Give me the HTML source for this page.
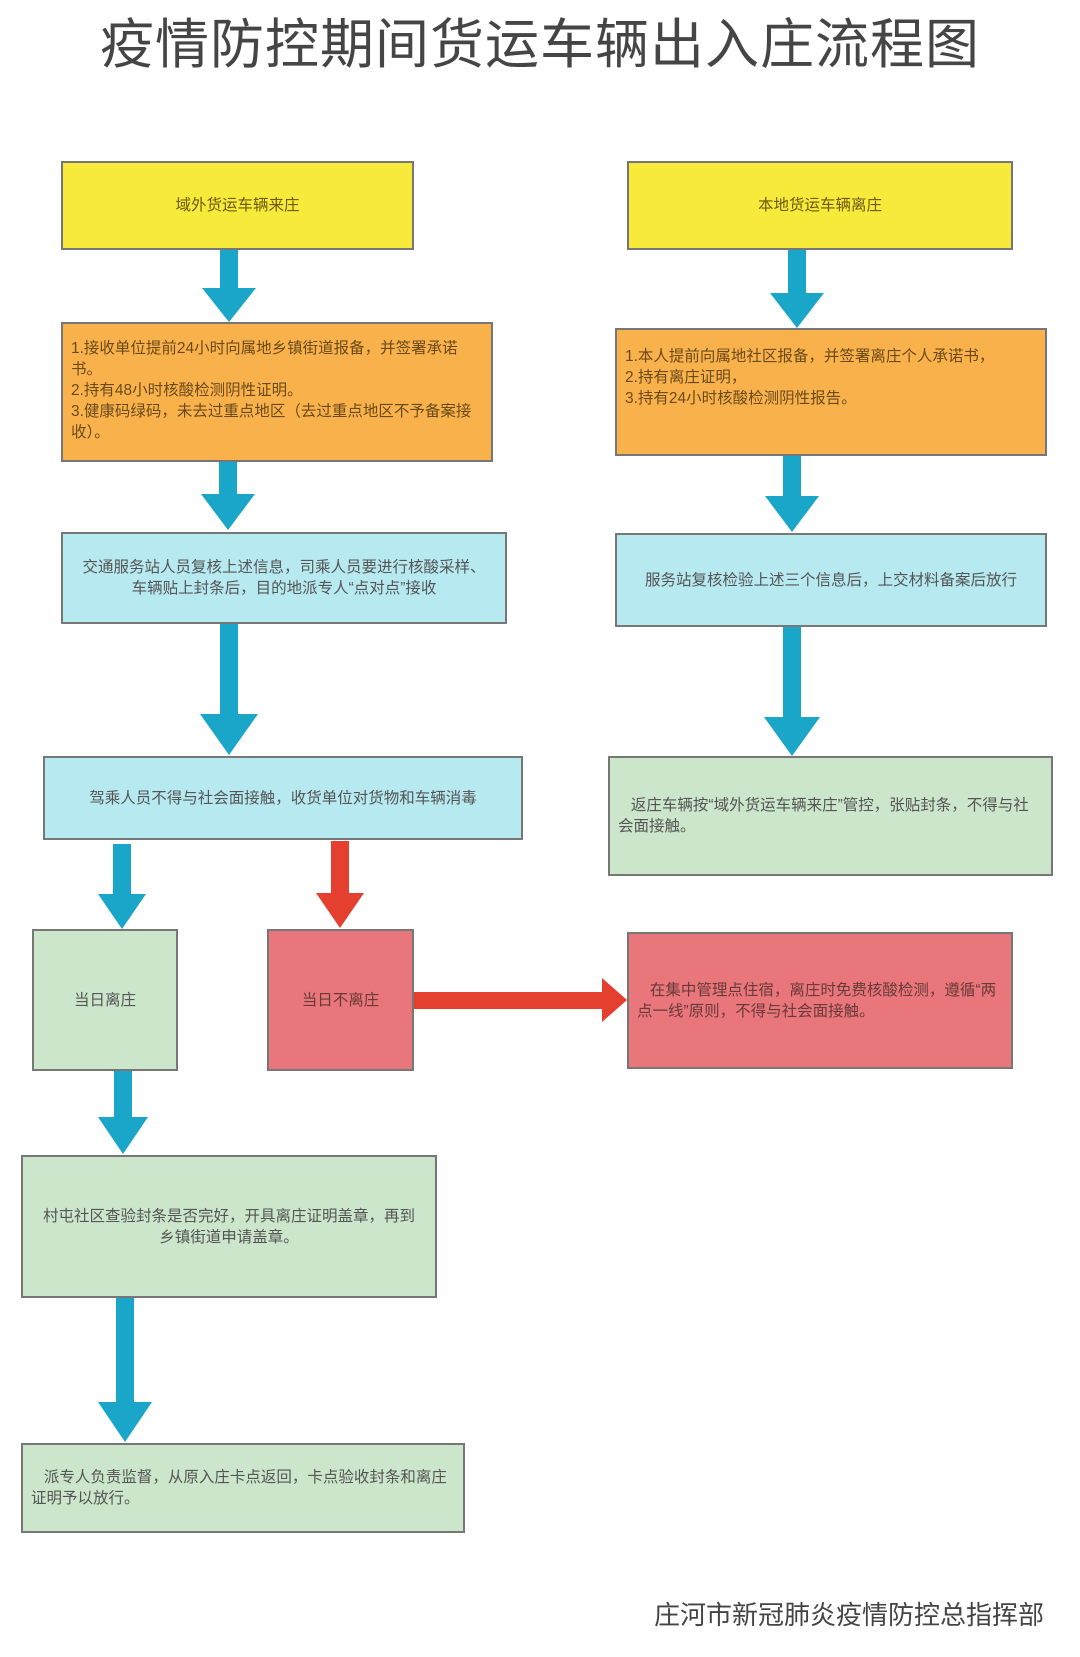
<!DOCTYPE html>
<html><head><meta charset="utf-8"><style>
body{margin:0;width:1080px;height:1657px;background:#fff;position:relative;overflow:hidden;font-family:"Liberation Sans","Noto Sans CJK SC",sans-serif}
.t{position:absolute;left:0;width:1080px;top:12px;text-align:center;font-size:54px;color:#454545;letter-spacing:1px;line-height:66px}
.b{position:absolute;box-sizing:border-box;border:2px solid #777;display:flex;align-items:center;font-size:15.5px;line-height:21px;color:#555;padding:6px 8px}
.c{justify-content:center;text-align:center}
.y{background:#f7ea3a;color:#6b5a10}
.o{background:#f9b24b;color:#6a4a1a}
.l{background:#b6e9f0}
.g{background:#cbe6cb}
.r{background:#e8767a;color:#6a3a3a}
svg{position:absolute;left:0;top:0}
.f{position:absolute;right:36px;top:1595px;font-size:26px;color:#444}
</style></head><body>
<div class="t">疫情防控期间货运车辆出入庄流程图</div>
<svg width="1080" height="1657">
<g fill="#1aa6c8">
<rect x="220" y="250" width="18" height="40"/><polygon points="202,288 256,288 229,322"/>
<rect x="788" y="250" width="18" height="45"/><polygon points="770,293 824,293 797,328"/>
<rect x="219" y="462" width="18" height="34"/><polygon points="201,494 255,494 228,530"/>
<rect x="783" y="456" width="18" height="42"/><polygon points="765,496 819,496 792,532"/>
<rect x="220" y="624" width="18" height="92"/><polygon points="200,714 258,714 229,755"/>
<rect x="783" y="627" width="18" height="92"/><polygon points="764,717 820,717 792,756"/>
<rect x="113" y="844" width="18" height="52"/><polygon points="98,894 146,894 122,929"/>
<rect x="114" y="1071" width="18" height="48"/><polygon points="98,1117 148,1117 123,1154"/>
<rect x="116" y="1298" width="18" height="106"/><polygon points="98,1402 152,1402 125,1442"/>
</g>
<g fill="#e5402f">
<rect x="331" y="841" width="18" height="54"/><polygon points="316,893 364,893 340,928"/>
<rect x="414" y="992" width="190" height="17"/><polygon points="602,978 602,1022 627,1000"/>
</g>
</svg>
<div class="b y c" style="left:61px;top:161px;width:353px;height:89px">域外货运车辆来庄</div>
<div class="b y c" style="left:627px;top:161px;width:386px;height:89px">本地货运车辆离庄</div>
<div class="b o" style="left:61px;top:322px;width:432px;height:140px;align-items:flex-start;padding:14px 18px 6px 8px">1.接收单位提前24小时向属地乡镇街道报备，并签署承诺书。<br>2.持有48小时核酸检测阴性证明。<br>3.健康码绿码，未去过重点地区（去过重点地区不予备案接收）。</div>
<div class="b o" style="left:615px;top:328px;width:432px;height:128px;align-items:flex-start;padding-top:16px">1.本人提前向属地社区报备，并签署离庄个人承诺书，<br>2.持有离庄证明，<br>3.持有24小时核酸检测阴性报告。</div>
<div class="b l c" style="left:61px;top:532px;width:446px;height:92px;padding:6px 16px">交通服务站人员复核上述信息，司乘人员要进行核酸采样、车辆贴上封条后，目的地派专人“点对点”接收</div>
<div class="b l c" style="left:615px;top:533px;width:432px;height:94px">服务站复核检验上述三个信息后，上交材料备案后放行</div>
<div class="b l c" style="left:43px;top:756px;width:480px;height:84px">驾乘人员不得与社会面接触，收货单位对货物和车辆消毒</div>
<div class="b g" style="left:608px;top:756px;width:445px;height:120px">&nbsp;&nbsp;&nbsp;返庄车辆按“域外货运车辆来庄”管控，张贴封条，不得与社会面接触。</div>
<div class="b g c" style="left:32px;top:929px;width:146px;height:142px">当日离庄</div>
<div class="b r c" style="left:267px;top:929px;width:147px;height:142px">当日不离庄</div>
<div class="b r" style="left:627px;top:932px;width:386px;height:137px">&nbsp;&nbsp;&nbsp;在集中管理点住宿，离庄时免费核酸检测，遵循“两点一线”原则，不得与社会面接触。</div>
<div class="b g c" style="left:21px;top:1155px;width:416px;height:143px;padding:6px 20px">村屯社区查验封条是否完好，开具离庄证明盖章，再到乡镇街道申请盖章。</div>
<div class="b g" style="left:21px;top:1443px;width:444px;height:90px">&nbsp;&nbsp;&nbsp;派专人负责监督，从原入庄卡点返回，卡点验收封条和离庄证明予以放行。</div>
<div class="f">庄河市新冠肺炎疫情防控总指挥部</div>
</body></html>
